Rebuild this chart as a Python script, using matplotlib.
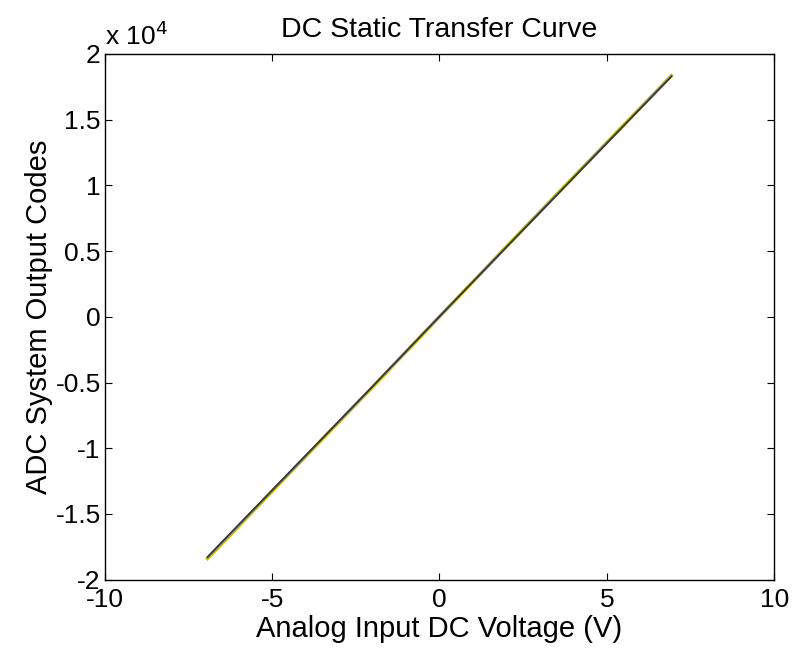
import numpy as np
import matplotlib.pyplot as plt
from matplotlib.ticker import FuncFormatter

plt.rcParams['font.family'] = ['Liberation Sans', 'DejaVu Sans']
plt.rcParams['axes.unicode_minus'] = False

# input voltage (V) and output codes, several overlapping traces
volts = [-6.93, -4.5, -2.0, 0.0, 2.0, 4.5, 6.93]
codes_yellow = [-18400, -11950, -5350, 0, 5350, 11950, 18350]
codes_gray = [-18300, -11900, -5300, 50, 5300, 11900, 18300]
codes_pink = [-18280, -11880, -5280, 30, 5320, 11920, 18320]
codes_black = [-18250, -11850, -5300, 0, 5300, 11880, 18280]

fig = plt.figure(figsize=(7.94, 6.58), dpi=100)
ax = fig.add_axes([0.132, 0.119, 0.843, 0.799])

ax.plot(volts, codes_yellow, color='#c8c800', lw=2.4)
ax.plot(volts, codes_pink, color='#b07aa0', lw=1.2)
ax.plot(volts, codes_gray, color='#606060', lw=1.5)
ax.plot(volts, codes_black, color='#303030', lw=0.8)

ax.set_xlim(-10, 10)
ax.set_ylim(-20000, 20000)
ax.set_xticks([-10, -5, 0, 5, 10])
ax.set_yticks(np.arange(-20000, 20001, 5000))
ax.yaxis.set_major_formatter(FuncFormatter(lambda v, p: '%g' % (v / 1e4)))
ax.tick_params(direction='in', length=5, width=0.8, labelsize=19,
               top=True, right=True, pad=3)
ax.tick_params(axis='x', pad=6)
for s in ax.spines.values():
    s.set_linewidth(1.0)

ax.set_title('DC Static Transfer Curve', fontsize=20.5, pad=12)
ax.set_xlabel('Analog Input DC Voltage (V)', fontsize=21, labelpad=2)
ax.set_ylabel('ADC System Output Codes', fontsize=21, labelpad=2)
ax.text(0.0, 1.008, r'x 10$^{4}$', transform=ax.transAxes, fontsize=19,
        ha='left', va='bottom')

fig.savefig('out.png', dpi=100)
